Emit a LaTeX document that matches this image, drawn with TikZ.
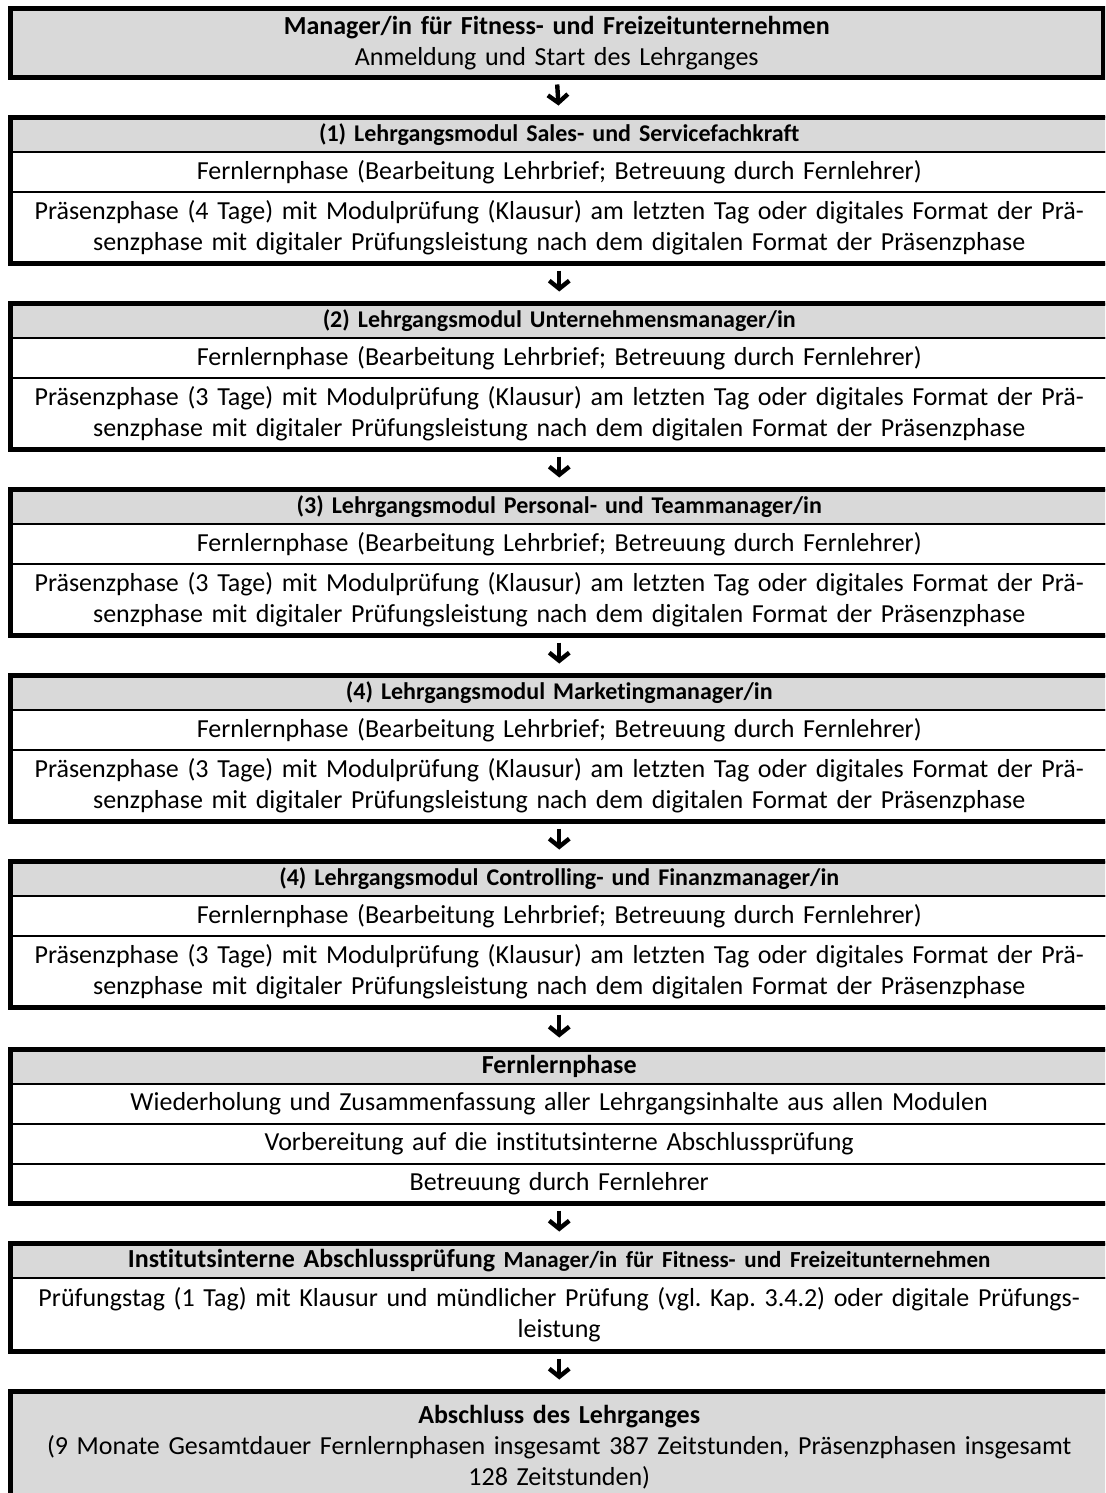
\documentclass[tikz,border=0pt]{standalone}
\usepackage{fontspec}
\setmainfont{Carlito}[Ligatures=NoCommon]
\usepackage{tikz}
\usetikzlibrary{arrows.meta,positioning}
\definecolor{cellgray}{HTML}{D9D9D9}
\frenchspacing

\begin{document}
\begin{tikzpicture}[
  x=0.5pt,y=0.5pt,
  cell/.style={draw,line width=1pt,outer sep=0pt,inner xsep=4pt,inner ysep=0pt,minimum width=548.75pt,text width=538pt,align=center,font=\fontsize{13}{15.5}\selectfont},
  head/.style={cell,fill=cellgray,font=\fontsize{13}{15.5}\selectfont\bfseries},
  modhead/.style={head,font=\fontsize{12}{15.5}\selectfont\bfseries},
  frame/.style={draw,line width=2.5pt},
  flow/.style={-{Straight Barb[length=4pt,width=10pt]},line width=2.2pt,shorten <=3.5pt,shorten >=6pt}
]
\useasboundingbox (0,0) rectangle (1105,-1493);
\clip (0,0) rectangle (1105,-1493);

\node[head,font=\fontsize{13}{15.5}\selectfont,minimum width=546.25pt,minimum height=34.5pt,anchor=north] (start) at (556.75,-8.5)
  {\textbf{Manager/in für Fitness- und Freizeitunternehmen}\\Anmeldung und Start des Lehrganges};

\node[modhead,minimum height=17.25pt,below=20pt of start,xshift=1.25pt] (h1) {(1) Lehrgangsmodul Sales- und Servicefachkraft};
\node[cell,minimum height=20pt,below=0pt of h1] (f1) {Fernlernphase (Bearbeitung Lehrbrief; Betreuung durch Fernlehrer)};
\node[cell,minimum height=35.75pt,below=0pt of f1] (p1) {Präsenzphase (4 Tage) mit Modulprüfung (Klausur) am letzten Tag oder digitales Format der Prä-\\senzphase mit digitaler Prüfungsleistung nach dem digitalen Format der Präsenzphase};

\node[modhead,minimum height=17.25pt,below=20pt of p1] (h2) {(2) Lehrgangsmodul Unternehmensmanager/in};
\node[cell,minimum height=20pt,below=0pt of h2] (f2) {Fernlernphase (Bearbeitung Lehrbrief; Betreuung durch Fernlehrer)};
\node[cell,minimum height=35.75pt,below=0pt of f2] (p2) {Präsenzphase (3 Tage) mit Modulprüfung (Klausur) am letzten Tag oder digitales Format der Prä-\\senzphase mit digitaler Prüfungsleistung nach dem digitalen Format der Präsenzphase};

\node[modhead,minimum height=17.25pt,below=20pt of p2] (h3) {(3) Lehrgangsmodul Personal- und Teammanager/in};
\node[cell,minimum height=20pt,below=0pt of h3] (f3) {Fernlernphase (Bearbeitung Lehrbrief; Betreuung durch Fernlehrer)};
\node[cell,minimum height=35.75pt,below=0pt of f3] (p3) {Präsenzphase (3 Tage) mit Modulprüfung (Klausur) am letzten Tag oder digitales Format der Prä-\\senzphase mit digitaler Prüfungsleistung nach dem digitalen Format der Präsenzphase};

\node[modhead,minimum height=17.25pt,below=20pt of p3] (h4) {(4) Lehrgangsmodul Marketingmanager/in};
\node[cell,minimum height=20pt,below=0pt of h4] (f4) {Fernlernphase (Bearbeitung Lehrbrief; Betreuung durch Fernlehrer)};
\node[cell,minimum height=35.75pt,below=0pt of f4] (p4) {Präsenzphase (3 Tage) mit Modulprüfung (Klausur) am letzten Tag oder digitales Format der Prä-\\senzphase mit digitaler Prüfungsleistung nach dem digitalen Format der Präsenzphase};

\node[modhead,minimum height=17.25pt,below=20pt of p4] (h5) {(4) Lehrgangsmodul Controlling- und Finanzmanager/in};
\node[cell,minimum height=20pt,below=0pt of h5] (f5) {Fernlernphase (Bearbeitung Lehrbrief; Betreuung durch Fernlehrer)};
\node[cell,minimum height=35.75pt,below=0pt of f5] (p5) {Präsenzphase (3 Tage) mit Modulprüfung (Klausur) am letzten Tag oder digitales Format der Prä-\\senzphase mit digitaler Prüfungsleistung nach dem digitalen Format der Präsenzphase};

\node[head,minimum height=17pt,below=21pt of p5] (hfern) {Fernlernphase};
\node[cell,minimum height=20pt,below=0pt of hfern] (wdh) {Wiederholung und Zusammenfassung aller Lehrgangsinhalte aus allen Modulen};
\node[cell,minimum height=20pt,below=0pt of wdh] (vorb) {Vorbereitung auf die institutsinterne Abschlussprüfung};
\node[cell,minimum height=20pt,below=0pt of vorb] (betr) {Betreuung durch Fernlehrer};

\node[head,minimum height=17.25pt,below=20pt of betr] (hpruef) {Institutsinterne Abschlussprüfung {\fontsize{11.5}{12}\selectfont Manager/in für Fitness- und Freizeitunternehmen}};
\node[cell,minimum height=36.75pt,below=0pt of hpruef] (pruef) {Prüfungstag (1 Tag) mit Klausur und mündlicher Prüfung (vgl. Kap. 3.4.2) oder digitale Prüfungs-\\leistung};

\node[head,font=\fontsize{13}{15.5}\selectfont,minimum height=56pt,below=20pt of pruef] (ende)
  {\textbf{Abschluss des Lehrganges}\\(9 Monate Gesamtdauer Fernlernphasen insgesamt 387 Zeitstunden, Präsenzphasen insgesamt\\128 Zeitstunden)};

\draw[frame] (start.north west) rectangle (start.south east);
\draw[frame] (h1.north west) rectangle (p1.south east);
\draw[frame] (h2.north west) rectangle (p2.south east);
\draw[frame] (h3.north west) rectangle (p3.south east);
\draw[frame] (h4.north west) rectangle (p4.south east);
\draw[frame] (h5.north west) rectangle (p5.south east);
\draw[frame] (hfern.north west) rectangle (betr.south east);
\draw[frame] (hpruef.north west) rectangle (pruef.south east);
\draw[frame] (ende.north west) rectangle (ende.south east);

\draw[flow] (start.south) -- (h1.north);
\draw[flow] (p1.south) -- (h2.north);
\draw[flow] (p2.south) -- (h3.north);
\draw[flow] (p3.south) -- (h4.north);
\draw[flow] (p4.south) -- (h5.north);
\draw[flow] (p5.south) -- (hfern.north);
\draw[flow] (betr.south) -- (hpruef.north);
\draw[flow] (pruef.south) -- (ende.north);
\end{tikzpicture}
\end{document}
